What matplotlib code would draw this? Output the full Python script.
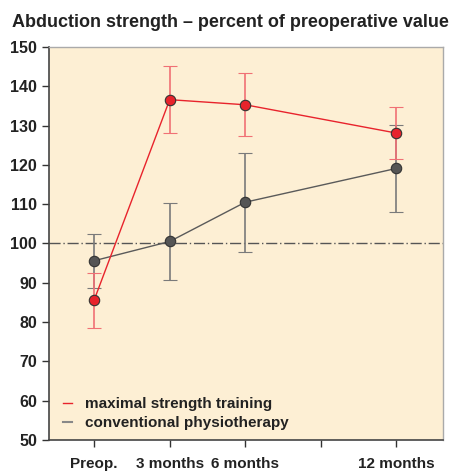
import numpy as np
import matplotlib.pyplot as plt

plt.rcParams['font.family'] = ['Liberation Sans', 'DejaVu Sans']

months = [0, 3, 6, 12]
tick_pos = [0, 3, 6, 9, 12]
tick_labels = ['Preop.', '3 months', '6 months', '', '12 months']

max_mean = [85.6, 136.6, 135.3, 128.1]
max_err = [7.0, 8.6, 8.0, 6.7]
conv_mean = [95.6, 100.5, 110.5, 119.1]
conv_err = [6.9, 9.7, 12.6, 11.0]

red = '#e8232c'
gray = '#5a5a5a'

fig = plt.figure(figsize=(4.52, 4.73), dpi=100)
ax = fig.add_axes([0.108, 0.07, 0.872, 0.8306])
ax.set_facecolor('#fdefd4')

ax.axhline(100, color='#555555', lw=1.0, linestyle=(0, (8, 2, 1, 2)), zorder=1)

ax.errorbar(months, conv_mean, yerr=conv_err, color=gray, ecolor='#7a7a7a', elinewidth=1.2,
            capsize=5, capthick=2, lw=1.0, marker='o', ms=7.5, mfc='#555555', mec='#333333',
            mew=0.8, zorder=3)
ax.errorbar(months, max_mean, yerr=max_err, color=red, ecolor='#f07075', elinewidth=1.2,
            capsize=5, capthick=2, lw=1.0, marker='o', ms=7.5, mfc=red, mec='#333333',
            mew=0.8, zorder=4)

ax.plot([], [], color=red, lw=1, label='maximal strength training')
ax.plot([], [], color='#888888', lw=1.5, label='conventional physiotherapy')
ax.legend(loc='lower left', bbox_to_anchor=(0.0, -0.01), frameon=False, handlelength=0.6,
          handletextpad=0.9, labelspacing=0.3, prop={'size': 11, 'weight': 'bold'},
          labelcolor='#222222')

ax.set_xlim(-1.8, 13.85)
ax.set_ylim(50, 150)
ax.set_yticks(np.arange(50, 151, 10))
ax.set_xticks(tick_pos)
ax.set_xticklabels(tick_labels)
ax.tick_params(axis='both', direction='out', length=5, width=1, colors='#333333',
               labelsize=11.5, labelcolor='#222222')
ax.tick_params(axis='x', pad=7, labelsize=11)
for lbl in ax.get_xticklabels() + ax.get_yticklabels():
    lbl.set_fontweight('bold')

for s in ['left', 'bottom']:
    ax.spines[s].set_color('#444444')
    ax.spines[s].set_linewidth(1.2)
for s in ['top', 'right']:
    ax.spines[s].set_color('#aaaaaa')
    ax.spines[s].set_linewidth(1.0)

fig.text(0.027, 0.953, 'Abduction strength \u2013 percent of preoperative value', fontsize=13,
         fontweight='bold', color='#222222', va='center', ha='left')

fig.savefig('out.png', dpi=100)
